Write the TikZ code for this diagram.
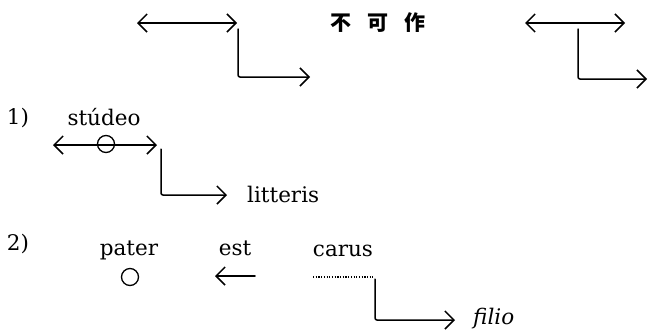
\documentclass[tikz,border=0pt]{standalone}
\usepackage{fontspec}
\setmainfont{DejaVu Serif}
\newfontfamily\cjk{Noto Sans CJK SC}
\usetikzlibrary{arrows.meta}
\tikzset{
  vbarb/.tip={Straight Barb[length=9pt,width=18pt,line width=1.5pt]},
  ln/.style={line width=1.5pt, line cap=round, line join=round},
  lbl/.style={inner sep=0pt, anchor=base, font=\fontsize{21.5}{26}\selectfont},
  ring/.style={circle, draw, line width=1.3pt, minimum size=17pt, inner sep=0pt},
  dots/.style={line width=1.2pt, dash pattern=on 1.2pt off 1.5pt},
}
\begin{document}
\begin{tikzpicture}[x=1pt,y=-1pt]
\useasboundingbox (0,0) rectangle (650,330);

% top left
\coordinate (a1) at (137,23); \coordinate (a2) at (237,23);
\coordinate (b1) at (238,29); \coordinate (b2) at (310,77);
\draw[ln,vbarb-vbarb] (a1) -- (a2);
\draw[ln,-vbarb,rounded corners=2pt] (b1) |- (b2);

% chinese
\node[inner sep=0pt, font=\cjk\bfseries\fontsize{21}{25}\selectfont] (zh) at (378,23) {不\hspace{16.5pt}可\hspace{16.5pt}作};

% top right
\coordinate (c1) at (525,23); \coordinate (c2) at (625,23);
\coordinate (d1) at (578,29); \coordinate (d2) at (647,79);
\draw[ln,vbarb-vbarb] (c1) -- (c2);
\draw[ln,-vbarb,rounded corners=2pt] (d1) |- (d2);

% row 1
\node[lbl] (one) at (18,124) {1)};
\node[lbl] (stud) at (104,125) {stúdeo};
\coordinate (e1) at (53,145); \coordinate (e2) at (157,145);
\draw[ln,vbarb-vbarb] (e1) -- (e2);
\node[ring] (o1) at (106,144) {};
\coordinate (f1) at (161,149); \coordinate (f2) at (227,195);
\draw[ln,-vbarb,rounded corners=2pt] (f1) |- (f2);
\node[lbl, anchor=base west] (litt) at (247,202) {litteris};

% row 2
\node[lbl] (two) at (18,250) {2)};
\node[lbl] (pater) at (129,255) {pater};
\node[ring] (o2) at (130,277) {};
\node[lbl] (est) at (235,255) {est};
\coordinate (g1) at (215,276); \coordinate (g2) at (255,276);
\draw[ln,vbarb-] (g1) -- (g2);
\node[lbl] (carus) at (343,256) {carus};
\coordinate (h1) at (313,277); \coordinate (h2) at (373,277);
\draw[dots] (h1) -- (h2);
\coordinate (k1) at (375,279); \coordinate (k2) at (455,320);
\draw[ln,-vbarb,rounded corners=2pt] (k1) |- (k2);
\node[lbl, anchor=base west, font=\fontsize{21.5}{26}\selectfont\itshape] (filio) at (473,324) {filio};
\end{tikzpicture}
\end{document}
